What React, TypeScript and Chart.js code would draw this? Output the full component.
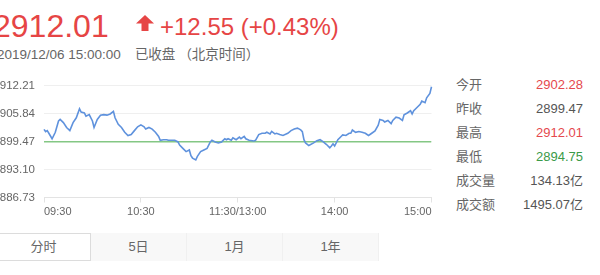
import React, { useEffect, useRef } from "react";
import { Chart, registerables } from "chart.js";

Chart.register(...registerables);

// Minutes since 09:30 on the trading clock (lunch break removed, 0..240)
const minutes = [
  0, 1, 2, 3, 5, 7, 9, 10, 12, 14,
  16, 18, 20, 22, 23, 25, 26, 28, 30, 31,
  33, 35, 37, 39, 41, 43, 44, 46, 48, 50,
  52, 54, 56, 58, 60, 62, 63, 65, 67, 69,
  71, 72, 74, 76, 77, 79, 81, 83, 84, 86,
  88, 90, 91, 92, 94, 95, 97, 99, 101, 103,
  104, 106, 108, 110, 112, 113, 114, 116, 117, 119,
  121, 122, 124, 125, 127, 130, 131, 133, 135, 137,
  138, 140, 141, 143, 144, 146, 148, 151, 153, 155,
  157, 159, 160, 161, 162, 164, 167, 169, 171, 173,
  175, 177, 178, 179, 180, 182, 184, 185, 187, 189,
  190, 191, 193, 195, 197, 199, 201, 203, 205, 207,
  208, 210, 211, 213, 215, 216, 218, 220, 222, 223,
  225, 227, 228, 229, 231, 233, 234, 236, 237, 239,
  240,
];

const prices = [
  2902.28, 2901.78, 2902.0, 2901.4, 2900.14, 2901.62, 2904.2, 2904.56, 2903.83, 2902.72,
  2902.0, 2903.83, 2904.93, 2906.98, 2906.25, 2906.03, 2905.31, 2905.66, 2904.2, 2902.72,
  2904.56, 2905.53, 2905.66, 2905.53, 2905.81, 2906.41, 2904.93, 2903.45, 2902.72, 2901.62,
  2900.89, 2901.11, 2902.0, 2902.88, 2903.32, 2902.88, 2902.35, 2902.72, 2902.35, 2901.62,
  2900.67, 2899.79, 2899.92, 2899.92, 2899.79, 2899.79, 2899.79, 2899.42, 2898.69, 2897.94,
  2897.21, 2897.58, 2896.26, 2895.73, 2895.3, 2896.11, 2897.21, 2897.58, 2897.94, 2899.42,
  2899.79, 2899.42, 2899.19, 2899.42, 2900.14, 2899.92, 2900.14, 2899.79, 2900.36, 2899.92,
  2900.52, 2900.14, 2900.67, 2900.14, 2899.79, 2899.64, 2899.79, 2901.11, 2901.4, 2901.4,
  2901.62, 2901.25, 2901.84, 2901.25, 2901.4, 2901.11, 2900.89, 2901.4, 2902.0, 2902.35,
  2902.57, 2902.17, 2901.78, 2899.92, 2899.19, 2898.6, 2899.19, 2899.7, 2899.92, 2899.42,
  2898.82, 2898.09, 2898.47, 2898.97, 2898.47, 2899.92, 2900.67, 2901.03, 2900.89, 2901.4,
  2901.4, 2902.13, 2901.62, 2901.78, 2901.62, 2901.4, 2900.89, 2901.4, 2901.91, 2903.23,
  2904.56, 2904.33, 2903.98, 2904.33, 2903.61, 2904.33, 2905.08, 2904.86, 2904.33, 2905.59,
  2906.03, 2906.54, 2905.81, 2906.54, 2907.29, 2908.02, 2908.75, 2908.39, 2909.5, 2910.5,
  2912.01,
];

const prevClose = 2899.47;
const yTicks = [2886.73, 2893.1, 2899.47, 2905.84, 2912.21];
const xTickMinutes = [0, 60, 120, 180, 240];
const xTickLabels = ["09:30", "10:30", "11:30/13:00", "14:00", "15:00"];

const statLabels = ["今开", "昨收", "最高", "最低", "成交量", "成交额"];
const statValues = ["2902.28", "2899.47", "2912.01", "2894.75", "134.13亿", "1495.07亿"];
const statColors = ["#e5484d", "#555", "#e5484d", "#3a9a48", "#555", "#555"];
const tabs = ["分时", "5日", "1月", "1年"];

const FONT = "'Liberation Sans', Arial, 'Noto Sans CJK SC', sans-serif";
const RED = "#e64545";

function PriceChart() {
  const ref = useRef<HTMLCanvasElement | null>(null);
  useEffect(() => {
    if (!ref.current) return;
    Chart.defaults.font.family = FONT;
    const chart = new Chart(ref.current, {
      type: "line",
      data: {
        datasets: [
          {
            data: minutes.map((m, i) => ({ x: m, y: prices[i] })),
            borderColor: "#5f92dd",
            borderWidth: 1.6,
            pointRadius: 0,
            tension: 0,
            clip: 4,
          },
          {
            data: [
              { x: xTickMinutes[0], y: prevClose },
              { x: xTickMinutes[xTickMinutes.length - 1], y: prevClose },
            ],
            borderColor: "#84c784",
            borderWidth: 1.5,
            pointRadius: 0,
          },
        ],
      },
      options: {
        animation: false,
        responsive: false,
        maintainAspectRatio: false,
        layout: { padding: { top: 12, right: 8.5, left: 0, bottom: 0 } },
        plugins: { legend: { display: false }, tooltip: { enabled: false } },
        scales: {
          x: {
            type: "linear",
            min: 0,
            max: 240,
            afterBuildTicks: (s: any) => {
              s.ticks = xTickMinutes.map((v) => ({ value: v }));
            },
            afterFit: (s: any) => {
              s.height = 32.5;
            },
            ticks: {
              autoSkip: false,
              maxRotation: 0,
              align: "inner",
              padding: 3,
              color: "#666",
              font: { size: 11 },
              callback: (v: any) => {
                const i = xTickMinutes.indexOf(Number(v));
                return i >= 0 ? xTickLabels[i] : "";
              },
            },
            grid: {
              drawOnChartArea: false,
              drawTicks: true,
              tickLength: 5,
              color: "#e3e3e3",
            },
            border: { display: true, color: "#e3e3e3" },
          },
          y: {
            min: yTicks[0],
            max: yTicks[yTicks.length - 1],
            afterBuildTicks: (s: any) => {
              s.ticks = yTicks.map((v) => ({ value: v }));
            },
            afterFit: (s: any) => {
              s.width = 54;
            },
            ticks: {
              padding: 9,
              color: "#666",
              font: { size: 11.5 },
              callback: (v: any) => Number(v).toFixed(2),
            },
            grid: { drawTicks: false, color: "#efefef" },
            border: { display: false },
          },
        },
      },
    });
    return () => chart.destroy();
  }, []);
  return (
    <canvas
      ref={ref}
      width={450}
      height={160}
      style={{ position: "absolute", left: -10, top: 70, width: 450, height: 160 }}
    />
  );
}

export default function App() {
  return (
    <div
      style={{
        position: "absolute",
        left: 0,
        top: 0,
        width: 600,
        height: 275,
        overflow: "hidden",
        background: "#fff",
        fontFamily: FONT,
      }}
    >
      <div style={{ position: "absolute", left: -7, top: 10, fontSize: 32, lineHeight: "32px", color: RED }}>
        2912.01
      </div>
      <svg style={{ position: "absolute", left: 136, top: 15 }} width={18} height={16} viewBox="0 0 18 16">
        <polygon points="0,8.5 9,0 18,8.5" fill={RED} />
        <rect x={5.5} y={8} width={7} height={8} fill={RED} />
      </svg>
      <div style={{ position: "absolute", left: 160, top: 15, fontSize: 24, lineHeight: "24px", color: RED }}>
        +12.55 (+0.43%)
      </div>
      <div
        style={{
          position: "absolute",
          left: -3,
          top: 47,
          fontSize: 13.5,
          lineHeight: "16px",
          color: "#666",
          whiteSpace: "nowrap",
        }}
      >
        <span>2019/12/06 15:00:00</span>
        <span style={{ marginLeft: 14 }}>已收盘</span>
        <span style={{ marginLeft: 3 }}>（北京时间）</span>
      </div>
      <PriceChart />
      <div style={{ position: "absolute", left: 456, top: 73, width: 127 }}>
        {statLabels.map((l, i) => (
          <div
            key={l}
            style={{
              display: "flex",
              justifyContent: "space-between",
              height: 24,
              lineHeight: "24px",
              fontSize: 13,
            }}
          >
            <span style={{ color: "#666" }}>{l}</span>
            <span style={{ color: statColors[i] }}>{statValues[i]}</span>
          </div>
        ))}
      </div>
      <div style={{ position: "absolute", left: -4, top: 233, display: "flex" }}>
        {tabs.map((t, i) => (
          <div
            key={t}
            style={{
              width: i === 0 ? 93 : 95,
              height: i === 0 ? 26 : 28,
              lineHeight: i === 0 ? "26px" : "28px",
              textAlign: "center",
              fontSize: 13,
              color: "#666",
              background: i === 0 ? "#fff" : "#f8f8f8",
              border: i === 0 ? "1px solid #dcdcdc" : "none",
              borderRight: i === 0 ? "1px solid #dcdcdc" : "1px solid #f0f0f0",
            }}
          >
            {t}
          </div>
        ))}
      </div>
    </div>
  );
}
